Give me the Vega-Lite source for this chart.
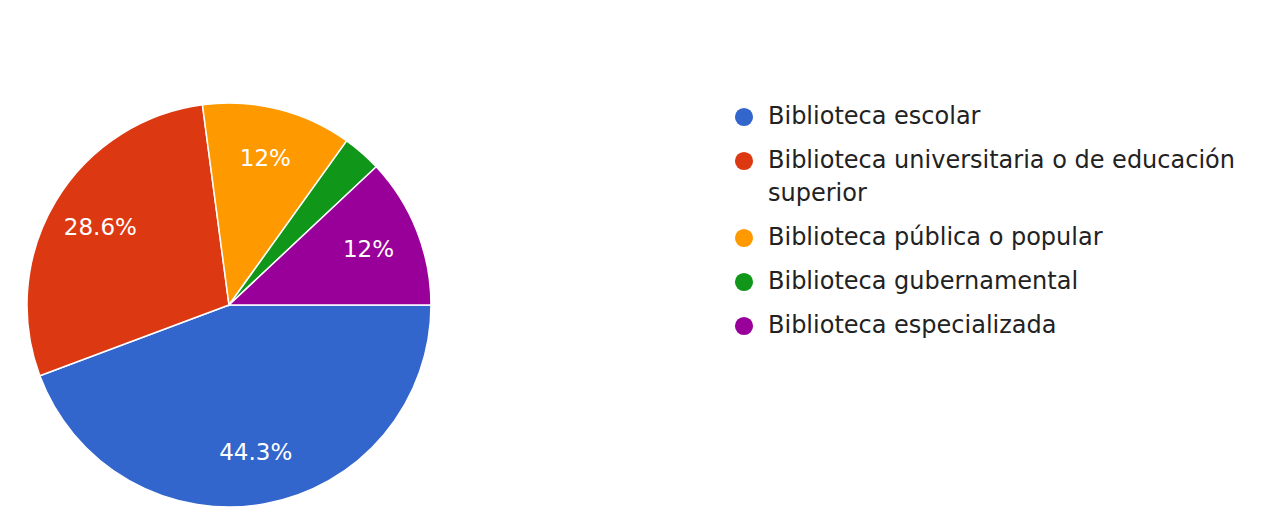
{
  "$schema": "https://vega.github.io/schema/vega-lite/v6.json",
  "width": 404,
  "height": 404,
  "padding": {"left": 24, "top": 100, "right": 5, "bottom": 10},
  "background": "white",
  "view": {"stroke": null},
  "config": {"style": {"guide-label": {"lineHeight": 33}}},
  "data": {
    "values": [
      {"tipo": "Biblioteca escolar", "pct": 0.443, "i": 1},
      {"tipo": "Biblioteca universitaria o de educación superior", "pct": 0.286, "i": 2},
      {"tipo": "Biblioteca pública o popular", "pct": 0.12, "i": 3},
      {"tipo": "Biblioteca gubernamental", "pct": 0.031, "i": 4},
      {"tipo": "Biblioteca especializada", "pct": 0.12, "i": 5}
    ]
  },
  "encoding": {
    "theta": {"field": "pct", "type": "quantitative", "stack": true, "scale": {"range": [1.5707963, 7.8539816]}},
    "order": {"field": "i", "type": "quantitative"}
  },
  "layer": [
    {
      "mark": {"type": "arc", "outerRadius": 202, "stroke": "white", "strokeWidth": 1.5},
      "encoding": {
        "color": {
          "field": "tipo",
          "type": "nominal",
          "scale": {
            "domain": ["Biblioteca escolar", "Biblioteca universitaria o de educación superior", "Biblioteca pública o popular", "Biblioteca gubernamental", "Biblioteca especializada"],
            "range": ["#3366CC", "#DC3912", "#FF9900", "#109618", "#990099"]
          },
          "legend": {
            "title": null,
            "orient": "none",
            "legendX": 705,
            "legendY": 2,
            "padding": 0,
            "symbolType": "circle",
            "symbolSize": 330,
            "symbolStrokeWidth": 0,
            "symbolOpacity": 1,
            "labelFont": "DejaVu Sans",
            "labelFontSize": 24,
            "labelColor": "#222222",
            "labelOffset": 12,
            "labelLimit": 800,
            "rowPadding": 20,
            "labelExpr": "datum.label == 'Biblioteca universitaria o de educación superior' ? ['Biblioteca universitaria o de educación', 'superior'] : datum.label"
          }
        }
      }
    },
    {
      "mark": {"type": "text", "radius": 150, "font": "DejaVu Sans", "fontSize": 23, "fill": "white"},
      "encoding": {
        "text": {"condition": {"test": "datum.pct < 0.05", "value": ""}, "field": "pct", "type": "quantitative", "format": ".1~%"}
      }
    }
  ]
}
